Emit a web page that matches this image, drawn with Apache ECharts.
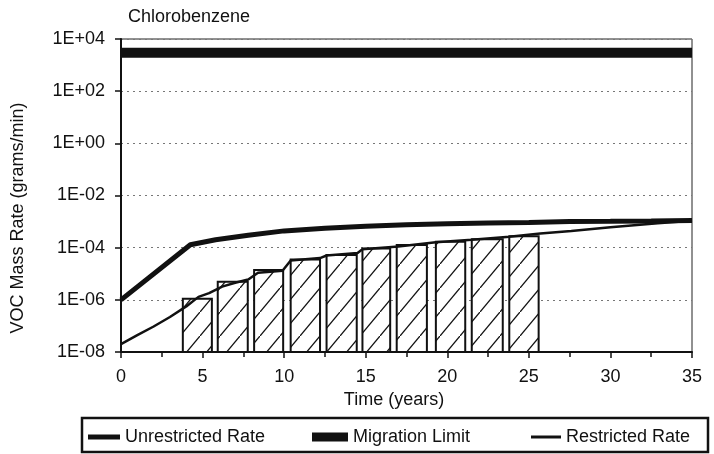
<!DOCTYPE html>
<html>
<head>
<meta charset="utf-8">
<title>Chlorobenzene</title>
<script src="https://cdn.jsdelivr.net/npm/echarts@6/dist/echarts.min.js"></script>
<style>
  html, body { margin: 0; padding: 0; background: #fff; }
  #chart { width: 714px; height: 454px; }
</style>
</head>
<body>
<div id="chart"></div>
<script>
// values (years, grams/min)
const xTicks = [0, 5, 10, 15, 20, 25, 30, 35]
const yTicks = [1e-8, 1e-6, 1e-4, 1e-2, 1, 1e2, 1e4]

const unrestrictedYears = [0, 4.25, 5.8, 7.8, 10, 12.5, 15, 17.5, 20, 22.5, 25, 27.5, 30, 32.5, 35]
const unrestrictedRate = [1.0e-6, 1.3e-4, 2.0e-4, 3.0e-4, 4.4e-4, 5.5e-4, 6.6e-4, 7.6e-4, 8.3e-4, 8.9e-4, 9.3e-4, 1.0e-3, 1.02e-3, 1.05e-3, 1.1e-3]

const restrictedYears = [0, 1, 2, 3, 4, 4.75, 5.4, 6.2, 7.0, 7.8, 8.4, 9.9, 10.4, 12.2, 12.6, 14.5, 14.8, 17, 19.3, 21.5, 23.8, 25.7, 27.6, 30, 32.9, 35]
const restrictedRate = [2.0e-8, 4.4e-8, 9.5e-8, 2.2e-7, 5.6e-7, 1.3e-6, 1.8e-6, 3.2e-6, 4.5e-6, 6.0e-6, 1.1e-5, 1.3e-5, 3.2e-5, 4.0e-5, 5.0e-5, 6.3e-5, 8.7e-5, 1.1e-4, 1.6e-4, 2.0e-4, 2.6e-4, 3.5e-4, 4.4e-4, 6.0e-4, 8.7e-4, 1.07e-3]

const limitYears = [0, 35]
const limitRate = [3000, 3000]

// hatched blocks: start year, end year, top value
const blockStart = [3.79, 5.93, 8.16, 10.4, 12.6, 14.8, 16.9, 19.3, 21.5, 23.8]
const blockEnd = [5.57, 7.77, 9.94, 12.2, 14.45, 16.5, 18.75, 21.1, 23.4, 25.6]
const blockTop = [1.1e-6, 4.9e-6, 1.4e-5, 3.5e-5, 5.2e-5, 9.3e-5, 1.26e-4, 1.7e-4, 2.1e-4, 2.75e-4]

const FONT = "'Liberation Sans', Arial, Helvetica, sans-serif"
const INK = '#111'

function pairs(xs, ys) {
  return xs.map((x, i) => [x, ys[i]])
}

function sciLabel(v) {
  const e = Math.round(Math.log10(v))
  const sign = e < 0 ? '-' : '+'
  const n = Math.abs(e)
  return '1E' + sign + (n < 10 ? '0' + n : n)
}

// diagonal hatch tile
function hatchPattern() {
  const c = document.createElement('canvas')
  c.width = 20
  c.height = 24
  const ctx = c.getContext('2d')
  ctx.fillStyle = '#fff'
  ctx.fillRect(0, 0, 20, 24)
  ctx.strokeStyle = '#111'
  ctx.lineWidth = 1.3
  ctx.beginPath()
  ctx.moveTo(-2, 26.4)
  ctx.lineTo(22, -2.4)
  ctx.stroke()
  return { image: c, repeat: 'repeat' }
}

const hatch = hatchPattern()
const chart = echarts.init(document.getElementById('chart'))

const legendText = { fontFamily: FONT, fontSize: 18, color: INK }

chart.setOption({
  animation: false,
  backgroundColor: '#fff',
  textStyle: { fontFamily: FONT, color: INK },
  title: {
    text: 'Chlorobenzene',
    left: 128,
    top: 8,
    padding: 0,
    textStyle: { fontFamily: FONT, fontSize: 18, fontWeight: 'normal', color: INK }
  },
  grid: {
    left: 121,
    right: 22,
    top: 39,
    bottom: 102,
    show: true,
    borderColor: '#222',
    borderWidth: 1
  },
  legend: [
    {
      data: ['Unrestricted Rate'],
      left: 88,
      top: 428,
      padding: 0,
      icon: 'rect',
      itemWidth: 32,
      itemHeight: 5,
      textStyle: legendText
    },
    {
      data: ['Migration Limit'],
      left: 312,
      top: 428,
      padding: 0,
      icon: 'rect',
      itemWidth: 36,
      itemHeight: 9,
      textStyle: legendText
    },
    {
      data: ['Restricted Rate'],
      left: 531,
      top: 428,
      padding: 0,
      icon: 'rect',
      itemWidth: 30,
      itemHeight: 3,
      textStyle: legendText
    }
  ],
  graphic: [
    {
      type: 'rect',
      shape: { x: 82, y: 418, width: 626, height: 34 },
      style: { fill: 'none', stroke: INK, lineWidth: 2.5 }
    },
    {
      type: 'text',
      x: 18,
      y: 218,
      rotation: Math.PI / 2,
      style: {
        text: 'VOC Mass Rate (grams/min)',
        font: '18px ' + FONT,
        fill: INK,
        align: 'center',
        verticalAlign: 'middle'
      }
    },
    {
      type: 'text',
      x: 394,
      y: 400,
      style: {
        text: 'Time (years)',
        font: '18px ' + FONT,
        fill: INK,
        align: 'center',
        verticalAlign: 'middle'
      }
    }
  ],
  xAxis: {
    type: 'value',
    min: xTicks[0],
    max: xTicks[xTicks.length - 1],
    interval: 5,
    axisLine: { lineStyle: { color: INK, width: 2 } },
    axisTick: { length: 6, lineStyle: { color: INK, width: 1.5 } },
    minorTick: { show: true, splitNumber: 2, length: 5, lineStyle: { color: INK, width: 1.5 } },
    axisLabel: { fontFamily: FONT, fontSize: 18, color: INK, margin: 16 },
    splitLine: { show: false }
  },
  yAxis: {
    type: 'log',
    logBase: 100,
    min: yTicks[0],
    max: yTicks[yTicks.length - 1],
    axisLine: { show: true, lineStyle: { color: INK, width: 2 } },
    axisTick: { show: true, length: 6, lineStyle: { color: INK, width: 1.5 } },
    axisLabel: {
      fontFamily: FONT,
      fontSize: 18,
      color: INK,
      margin: 16,
      formatter: sciLabel
    },
    splitLine: { lineStyle: { color: '#777', type: [2, 4], width: 1 } }
  },
  series: [
    {
      name: 'Hatched',
      type: 'custom',
      z: 1,
      encode: { x: [0, 1], y: 2 },
      data: blockStart.map((s, i) => [s, blockEnd[i], blockTop[i]]),
      renderItem(params, api) {
        const a = api.coord([api.value(0), api.value(2)])
        const b = api.coord([api.value(1), yTicks[0]])
        return {
          type: 'rect',
          shape: { x: a[0], y: a[1], width: b[0] - a[0], height: b[1] - a[1] },
          style: { fill: hatch, stroke: INK, lineWidth: 2 }
        }
      }
    },
    {
      name: 'Unrestricted Rate',
      type: 'line',
      z: 3,
      data: pairs(unrestrictedYears, unrestrictedRate),
      symbol: 'none',
      itemStyle: { color: INK },
      lineStyle: { color: INK, width: 5 }
    },
    {
      name: 'Migration Limit',
      type: 'line',
      z: 3,
      data: pairs(limitYears, limitRate),
      symbol: 'none',
      itemStyle: { color: INK },
      lineStyle: { color: INK, width: 10 }
    },
    {
      name: 'Restricted Rate',
      type: 'line',
      z: 4,
      data: pairs(restrictedYears, restrictedRate),
      symbol: 'none',
      itemStyle: { color: INK },
      lineStyle: { color: INK, width: 2.5 }
    }
  ]
})
</script>
</body>
</html>
